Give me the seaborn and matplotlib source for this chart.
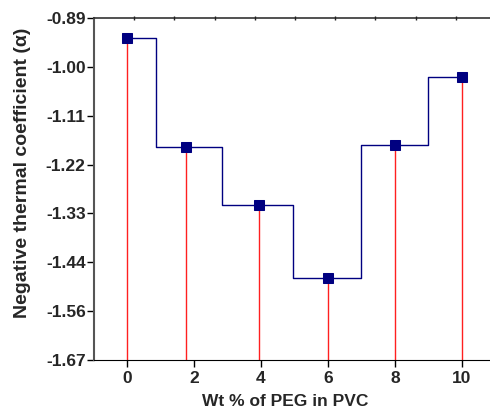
import numpy as np
import pandas as pd
import seaborn as sns
import matplotlib.pyplot as plt

# Data
peg_wt = [0, 1.75, 3.93, 6, 8, 10]
alpha = [-0.936, -1.185, -1.317, -1.483, -1.180, -1.025]
x_ticks = [0, 2, 4, 6, 8, 10]
y_ticks = [-1.67, -1.5586, -1.4471, -1.3357, -1.2243, -1.1129, -1.0014, -0.89]
y_labels = ['-1.67', '-1.56', '-1.44', '-1.33', '-1.22', '-1.11', '-1.00', '-0.89']

data = pd.DataFrame({'wt': peg_wt, 'alpha': alpha})

sns.set_style('ticks')
plt.rcParams['font.family'] = ['Liberation Sans', 'DejaVu Sans']
plt.rcParams['font.weight'] = 'bold'

fig = plt.figure(figsize=(4.9, 4.13), dpi=100)
ax = fig.add_axes([94 / 490, 1 - 360 / 413, 1 - 94 / 490, (360 - 18) / 413])

# Drop lines from each point to the bottom axis
ax.vlines(data['wt'], y_ticks[0], data['alpha'], color='#ff2020', lw=1.0, zorder=1)

# Step line with square markers
sns.lineplot(data=data, x='wt', y='alpha', ax=ax, color='#000080', lw=1.0,
             drawstyle='steps-mid', marker='s', markersize=6.5,
             markeredgecolor='#000080', sort=False, zorder=3)

ax.set_xlim(-0.985, 10.84)
ax.set_ylim(y_ticks[0], y_ticks[-1])
ax.set_xticks(x_ticks)
ax.set_xticklabels([str(t) for t in x_ticks])
ax.set_yticks(y_ticks)
ax.set_yticklabels(y_labels)
ax.tick_params(axis='both', labelsize=12.5, length=5, width=1, color='black')
ax.tick_params(axis='y', pad=1)
ax.tick_params(axis='x', pad=3)
for lab in ax.get_xticklabels() + ax.get_yticklabels():
    lab.set_fontweight('bold')

ax.set_xlabel('Wt % of PEG in PVC', fontsize=12.5, fontweight='bold')
ax.set_ylabel('Negative thermal coefficient (α)', fontsize=14, fontweight='bold')
ax.xaxis.set_label_coords(0.4836, -0.098)
ax.yaxis.set_label_coords(-0.158, 0.548)

ax.spines['right'].set_visible(False)
ax.spines['left'].set_color('#555555')
ax.spines['left'].set_linewidth(1.5)
ax.spines['bottom'].set_color('black')
ax.spines['top'].set_color('#333333')
ax.spines['top'].set_linewidth(1.2)

# Top axis carries its own unlabeled ticks
top = ax.twiny()
top.set_xlim(0, 9.85)
top.set_xticks(range(1, 10))
top.tick_params(axis='x', direction='inout', length=3, width=1, labeltop=False, color='#222222')
for s in ['right', 'left', 'bottom', 'top']:
    top.spines[s].set_visible(False)

fig.savefig('out.png', dpi=100)
